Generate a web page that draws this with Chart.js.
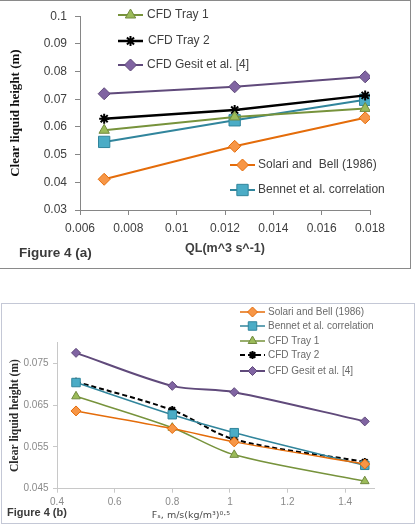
<!DOCTYPE html>
<html>
<head>
<meta charset="utf-8">
<script src="https://cdn.jsdelivr.net/npm/chart.js"></script>
<style>
  html, body { margin: 0; padding: 0; background: #fff; }
  body { width: 419px; height: 525px; position: relative; overflow: hidden; }
  #boxA { position: absolute; left: 0; top: 0; width: 410px; height: 267px;
          border-top: 1px solid #8a8a8a; border-right: 1px solid #8a8a8a; border-bottom: 1px solid #8a8a8a; }
  #boxB { position: absolute; left: 1px; top: 303px; width: 412px; height: 219px;
          border: 1px solid #c4c8d6; }
  canvas { display: block; }
</style>
</head>
<body>
<div id="boxA"><canvas id="chartA" width="410" height="267"></canvas></div>
<div id="boxB"><canvas id="chartB" width="412" height="219"></canvas></div>
<script>
// Figure 4 (a): clear liquid height vs liquid flow rate
const qlA = [0.007, 0.0124, 0.0178];
const tray1A = [0.0588, 0.0636, 0.0667];
const tray2A = [0.0630, 0.0661, 0.0714];
const gesitA = [0.0720, 0.0745, 0.0781];
const solariA = [0.0411, 0.0530, 0.0633];
const bennetA = [0.0546, 0.0624, 0.0698];
const xTicksA = [0.006, 0.008, 0.01, 0.012, 0.014, 0.016, 0.018];
const yTicksA = [0.03, 0.04, 0.05, 0.06, 0.07, 0.08, 0.09, 0.1];

// Figure 4 (b): clear liquid height vs F-factor
const fsB = [0.466, 0.80, 1.015, 1.468];
const solariB = [0.0636, 0.0594, 0.0562, 0.0509];
const bennetB = [0.0704, 0.0627, 0.0584, 0.0506];
const tray1B = [0.0671, 0.0596, 0.0531, 0.0468];
const tray2B = [0.0706, 0.0638, 0.0568, 0.0514];
const gesitB = [0.0775, 0.0696, 0.0681, 0.0611];
const xTicksB = [0.4, 0.6, 0.8, 1, 1.2, 1.4];
const yTicksB = [0.045, 0.055, 0.065, 0.075];

const toPoints = (xs, ys) => xs.map((x, i) => ({ x: x, y: ys[i] }));

// series styles
const sTray1 = { line: '#77933C', fill: '#9BBB59', edge: '#71893F', style: 'triangle' };
const sTray2 = { line: '#000000', fill: '#000000', edge: '#000000', style: 'star' };
const sGesit = { line: '#604A7B', fill: '#8064A2', edge: '#5F497A', style: 'rectRot' };
const sSolari = { line: '#E46C0A', fill: '#F79646', edge: '#E46C0A', style: 'rectRot' };
const sBennet = { line: '#31859C', fill: '#4BACC6', edge: '#31859C', style: 'rect' };

function series(label, xs, ys, s, r, lw, extra) {
    return Object.assign({
        label: label,
        data: toPoints(xs, ys),
        borderColor: s.line,
        backgroundColor: s.fill,
        borderWidth: lw,
        pointStyle: s.style,
        pointRadius: r,
        pointBackgroundColor: s.fill,
        pointBorderColor: s.edge,
        pointBorderWidth: s.style === 'star' ? 2 : 1,
        tension: 0
    }, extra || {});
}

// draws the legend entries and figure labels where the original has them
const notes = {
    id: 'notes',
    afterDraw(chart, args, opts) {
        const ctx = chart.ctx;
        ctx.save();
        opts.items.forEach(it => {
            const ds = chart.data.datasets[it.ds];
            ctx.strokeStyle = ds.borderColor;
            ctx.lineWidth = ds.borderWidth;
            ctx.setLineDash(ds.borderDash || []);
            ctx.beginPath();
            ctx.moveTo(it.x0, it.y);
            ctx.lineTo(it.x1, it.y);
            ctx.stroke();
            ctx.setLineDash([]);
            ctx.fillStyle = ds.pointBackgroundColor;
            ctx.strokeStyle = ds.pointBorderColor;
            ctx.lineWidth = ds.pointBorderWidth;
            Chart.helpers.drawPoint(ctx, {
                pointStyle: ds.pointStyle, radius: ds.pointRadius,
                borderWidth: ds.pointBorderWidth, rotation: 0
            }, (it.x0 + it.x1) / 2, it.y);
            ctx.fillStyle = opts.color;
            ctx.font = opts.font;
            ctx.textBaseline = 'middle';
            ctx.textAlign = 'left';
            ctx.fillText(ds.label, it.tx, it.y);
        });
        opts.texts.forEach(t => {
            ctx.fillStyle = t.color;
            ctx.font = t.font;
            ctx.textBaseline = 'middle';
            ctx.textAlign = t.align || 'left';
            ctx.fillText(t.text, t.x, t.y);
        });
        ctx.restore();
    }
};

const chartA = new Chart(document.getElementById('chartA'), {
    type: 'line',
    data: {
        datasets: [
            series('CFD Tray 1', qlA, tray1A, sTray1, 6, 2),
            series('CFD Tray 2', qlA, tray2A, sTray2, 5, 2.5),
            series('CFD Gesit et al. [4]', qlA, gesitA, sGesit, 6, 2),
            series('Solari and  Bell (1986)', qlA, solariA, sSolari, 6, 2),
            series('Bennet et al. correlation', qlA, bennetA, sBennet, 8, 2)
        ]
    },
    options: {
        responsive: false,
        animation: false,
        layout: { padding: { top: 13, right: 40, left: 0, bottom: 0 } },
        plugins: {
            legend: { display: false },
            tooltip: { enabled: false },
            notes: {
                font: '12px "Liberation Sans", Arial, sans-serif',
                color: '#404040',
                items: [
                    { ds: 0, x0: 118, x1: 143, tx: 147, y: 14 },
                    { ds: 1, x0: 118, x1: 143, tx: 148, y: 40 },
                    { ds: 2, x0: 118, x1: 143, tx: 147, y: 64 },
                    { ds: 3, x0: 230, x1: 255, tx: 258, y: 164 },
                    { ds: 4, x0: 230, x1: 255, tx: 258, y: 189 }
                ],
                texts: [
                    { text: 'Figure 4 (a)', x: 19, y: 252, color: '#3a3a3a',
                      font: 'bold 13.5px "Liberation Sans", Arial, sans-serif' }
                ]
            }
        },
        scales: {
            x: {
                type: 'linear',
                min: 0.006, max: 0.018,
                afterFit: s => { s.height = 58; },
                afterBuildTicks: s => { s.ticks = xTicksA.map(v => ({ value: v })); },
                grid: { drawOnChartArea: false, color: '#868686', tickLength: 5 },
                border: { color: '#868686' },
                ticks: {
                    maxRotation: 0, padding: 6, color: '#404040',
                    font: { family: '"Liberation Sans", Arial, sans-serif', size: 12 },
                    callback: v => String(+v.toFixed(3))
                },
                title: {
                    display: true, text: 'QL(m^3 s^-1)', color: '#404040',
                    font: { family: '"Liberation Sans", Arial, sans-serif', size: 12.5, weight: 'bold' },
                    padding: { top: 0, bottom: 11.5 }
                }
            },
            y: {
                min: 0.03, max: 0.1,
                afterFit: s => { s.width = 80; },
                afterBuildTicks: s => { s.ticks = yTicksA.map(v => ({ value: v })); },
                grid: { drawOnChartArea: false, color: '#868686', tickLength: 5 },
                border: { color: '#868686' },
                ticks: {
                    padding: 8, color: '#404040',
                    font: { family: '"Liberation Sans", Arial, sans-serif', size: 12 },
                    callback: v => String(+v.toFixed(3))
                },
                title: {
                    display: true, text: 'Clear liquid height (m)', color: '#111',
                    font: { family: '"Liberation Serif", "Times New Roman", serif', size: 13, weight: 'bold' },
                    padding: { top: 8, bottom: 0 }
                }
            }
        }
    },
    plugins: [notes]
});

const chartB = new Chart(document.getElementById('chartB'), {
    type: 'line',
    data: {
        datasets: [
            series('Solari and Bell (1986)', fsB, solariB, sSolari, 5, 1.5, { tension: 0.3 }),
            series('Bennet et al. correlation', fsB, bennetB, sBennet, 6, 1.5, { tension: 0.3 }),
            series('CFD Tray 1', fsB, tray1B, sTray1, 5, 1.5, { tension: 0.3 }),
            series('CFD Tray 2', fsB, tray2B, sTray2, 4, 2, { tension: 0.3, borderDash: [5, 3] }),
            series('CFD Gesit et al. [4]', fsB, gesitB, sGesit, 4.5, 2, { tension: 0.3 })
        ]
    },
    options: {
        responsive: false,
        animation: false,
        layout: { padding: { top: 38.4, right: 40, left: 0, bottom: 0 } },
        plugins: {
            legend: { display: false },
            tooltip: { enabled: false },
            notes: {
                font: '10px "Liberation Sans", Arial, sans-serif',
                color: '#6a6a6a',
                items: [
                    { ds: 0, x0: 238, x1: 263, tx: 266, y: 8 },
                    { ds: 1, x0: 238, x1: 263, tx: 266, y: 22 },
                    { ds: 2, x0: 238, x1: 263, tx: 266, y: 37 },
                    { ds: 3, x0: 238, x1: 263, tx: 266, y: 51 },
                    { ds: 4, x0: 238, x1: 263, tx: 266, y: 67 }
                ],
                texts: [
                    { text: 'Figure 4 (b)', x: 5, y: 209, color: '#3a3a3a',
                      font: 'bold 11px "Liberation Sans", Arial, sans-serif' },
                    { text: 'F\u209B, m/s(kg/m\u00B3)\u2070\u00B7\u2075', x: 189, y: 212, align: 'center',
                      color: '#4a4a4a', font: '9.5px "DejaVu Sans", sans-serif' }
                ]
            }
        },
        scales: {
            x: {
                type: 'linear',
                min: 0.4, max: 1.5,
                afterFit: s => { s.height = 34.3; },
                afterBuildTicks: s => { s.ticks = xTicksB.map(v => ({ value: v })); },
                grid: { drawOnChartArea: false, color: '#c8c8c8', tickLength: 4 },
                border: { color: '#c8c8c8' },
                ticks: {
                    maxRotation: 0, padding: 4, color: '#8a8a8a',
                    font: { family: '"Liberation Sans", Arial, sans-serif', size: 10 },
                    callback: v => String(+v.toFixed(1))
                }
            },
            y: {
                min: 0.045, max: 0.08,
                afterFit: s => { s.width = 55; },
                afterBuildTicks: s => { s.ticks = yTicksB.map(v => ({ value: v })); },
                grid: { drawOnChartArea: false, color: '#c8c8c8', tickLength: 4 },
                border: { color: '#c8c8c8' },
                ticks: {
                    padding: 4.5, color: '#8a8a8a',
                    font: { family: '"Liberation Sans", Arial, sans-serif', size: 10 },
                    callback: v => String(+v.toFixed(3))
                },
                title: {
                    display: true, text: 'Clear liquid height (m)', color: '#2a2a2a',
                    font: { family: '"Liberation Serif", "Times New Roman", serif', size: 11.5, weight: 'bold' },
                    padding: { top: 6, bottom: 0 }
                }
            }
        }
    },
    plugins: [notes]
});
</script>
</body>
</html>
